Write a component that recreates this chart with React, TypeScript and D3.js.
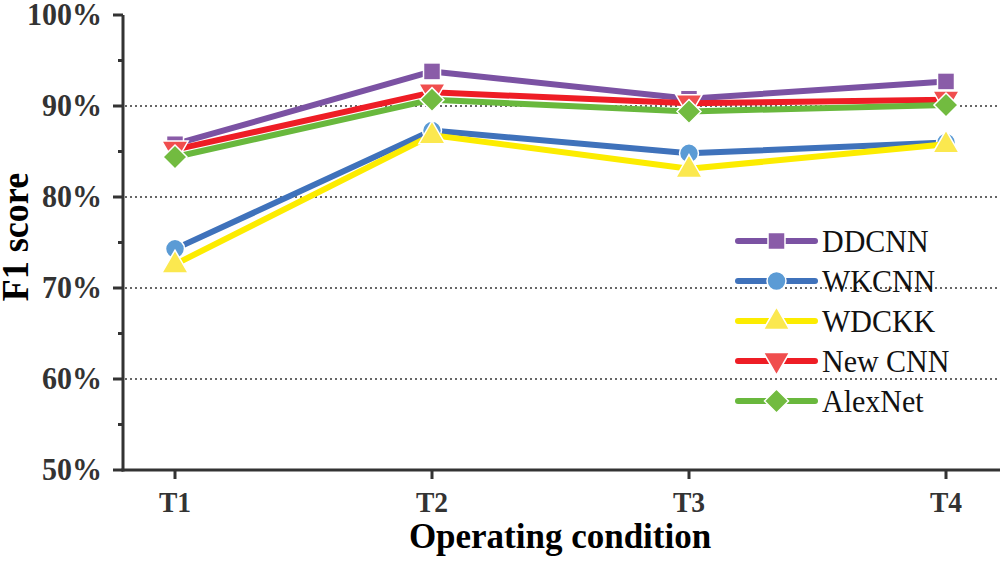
import React from "react";
import * as d3 from "d3";

const categories = ["T1", "T2", "T3", "T4"];
const seriesNames = ["DDCNN", "WKCNN", "WDCKK", "New CNN", "AlexNet"];
const ddcnn = [85.8, 93.8, 90.8, 92.7];
const wkcnn = [74.3, 87.3, 84.8, 86.0];
const wdckk = [72.6, 86.8, 83.1, 85.8];
const newcnn = [85.2, 91.5, 90.3, 90.7];
const alexnet = [84.4, 90.7, 89.4, 90.1];
const yTicks = [50, 60, 70, 80, 90, 100];
const yMinorTicks = [55, 65, 75, 85, 95];
const gridTicks = [60, 70, 80, 90];

const lineColors = ["#7b52a3", "#3f72bb", "#fcec00", "#ee1d25", "#69b83d"];
const markerColors = ["#8a5ca8", "#5b9bd5", "#fbe84f", "#f04e4e", "#72bb40"];
const markerTypes = ["square", "circle", "triangle", "triangleDown", "diamond"];

const allValues = [ddcnn, wkcnn, wdckk, newcnn, alexnet];

const W = 1005;
const H = 562;
const axisX = 123;
const axisRight = 1000;
const top = 15;
const bottom = 470;
const font = "'Liberation Serif', 'Times New Roman', serif";
const axisColor = "#333";
const stretch = 1.04;

function Marker({ type, x, y, fill }: { type: string; x: number; y: number; fill: string }) {
  const st = { fill, stroke: "#fff", strokeWidth: 1.5 };
  if (type === "square") {
    const s = 17;
    return <rect x={x - s / 2} y={y - s / 2} width={s} height={s} {...st} />;
  }
  if (type === "circle") {
    return <circle cx={x} cy={y} r={9.5} {...st} />;
  }
  if (type === "diamond") {
    const r = 12;
    return <path d={`M${x},${y - r}L${x + r},${y}L${x},${y + r}L${x - r},${y}Z`} {...st} />;
  }
  const sym = d3.symbol().type(d3.symbolTriangle).size(300)();
  const rot = type === "triangleDown" ? 180 : 0;
  return <path d={sym || ""} transform={`translate(${x},${y + (rot ? -1 : 1)}) rotate(${rot})`} {...st} />;
}

function T({
  x,
  y,
  size,
  anchor = "start",
  bold = false,
  fill = "#000",
  rotate = 0,
  children,
}: {
  x: number;
  y: number;
  size: number;
  anchor?: string;
  bold?: boolean;
  fill?: string;
  rotate?: number;
  children: React.ReactNode;
}) {
  return (
    <text
      transform={`translate(${x},${y}) rotate(${rotate}) scale(1,${stretch})`}
      textAnchor={anchor}
      fontFamily={font}
      fontWeight={bold ? "bold" : "normal"}
      fontSize={size}
      fill={fill}
    >
      {children}
    </text>
  );
}

export default function App() {
  const x = d3.scalePoint<string>().domain(categories).range([175, 946]);
  const y = d3.scaleLinear().domain([50, 100]).range([bottom, top]);
  const line = d3
    .line<number>()
    .x((_, i) => x(categories[i]) as number)
    .y((d) => y(d));

  const legendX1 = 738;
  const legendX2 = 815;
  const legendMid = (legendX1 + legendX2) / 2;
  const legendY0 = 241;
  const legendStep = 40;

  return (
    <svg width={W} height={H} style={{ position: "absolute", left: 0, top: 0, background: "#fff" }}>
      <rect x={0} y={0} width={W} height={H} fill="#fff" />
      {gridTicks.map((t) => (
        <line
          key={t}
          x1={axisX + 2}
          x2={axisRight}
          y1={y(t)}
          y2={y(t)}
          stroke="#666"
          strokeWidth={2}
          strokeDasharray="2 3"
        />
      ))}
      {allValues.map((vals, si) => (
        <g key={si}>
          <path
            d={line(vals) || ""}
            fill="none"
            stroke={lineColors[si]}
            strokeWidth={6}
            strokeLinecap="round"
            strokeLinejoin="round"
          />
          {vals.map((v, i) => (
            <Marker key={i} type={markerTypes[si]} x={x(categories[i]) as number} y={y(v)} fill={markerColors[si]} />
          ))}
        </g>
      ))}
      <line x1={axisX} x2={axisX} y1={top} y2={bottom + 1.5} stroke={axisColor} strokeWidth={3} />
      <line x1={axisX - 1.5} x2={axisRight} y1={bottom} y2={bottom} stroke={axisColor} strokeWidth={3} />
      {yTicks.map((t) => (
        <g key={t}>
          <line x1={axisX - 10} x2={axisX} y1={y(t)} y2={y(t)} stroke={axisColor} strokeWidth={3} />
          <T x={102} y={y(t) + 10} size={30} anchor="end" bold fill={axisColor}>
            {t}%
          </T>
        </g>
      ))}
      {yMinorTicks.map((t) => (
        <line key={t} x1={axisX - 5} x2={axisX} y1={y(t)} y2={y(t)} stroke={axisColor} strokeWidth={3} />
      ))}
      {categories.map((c) => (
        <g key={c}>
          <line x1={x(c)} x2={x(c)} y1={bottom} y2={bottom + 9} stroke={axisColor} strokeWidth={3} />
          <T x={x(c) as number} y={512} size={27.5} anchor="middle" bold fill={axisColor}>
            {c}
          </T>
        </g>
      ))}
      <T x={560} y={548} size={35} anchor="middle" bold>
        Operating condition
      </T>
      <T x={28} y={237} size={36} anchor="middle" bold rotate={-90}>
        F1 score
      </T>
      {seriesNames.map((name, si) => {
        const ly = legendY0 + si * legendStep;
        return (
          <g key={name}>
            <line
              x1={legendX1}
              x2={legendX2}
              y1={ly}
              y2={ly}
              stroke={lineColors[si]}
              strokeWidth={6}
              strokeLinecap="round"
            />
            <Marker type={markerTypes[si]} x={legendMid} y={ly} fill={markerColors[si]} />
            <T x={822} y={ly + 11} size={30} fill="#111">
              {name}
            </T>
          </g>
        );
      })}
    </svg>
  );
}
